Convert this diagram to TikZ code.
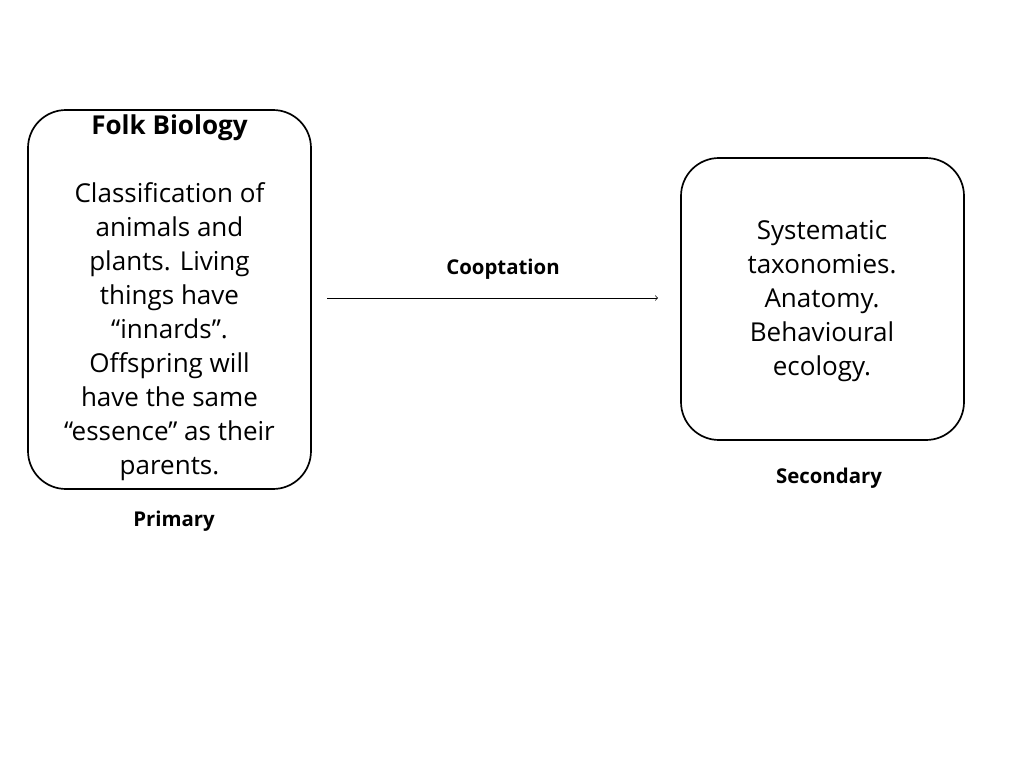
\documentclass[tikz,border=0pt]{standalone}
\usepackage{fontspec}
\setmainfont{Open Sans}
\usetikzlibrary{positioning}
\tikzset{
  panel/.style={draw, line width=1.2pt, rounded corners=38*0.025cm},
  body/.style={align=center, font=\fontsize{18.5}{24.2}\selectfont, inner sep=0pt},
  tag/.style={font=\fontsize{14.5}{17}\selectfont\bfseries, inner sep=0pt}
}
\begin{document}
\begin{tikzpicture}[x=0.025cm, y=-0.025cm]
  \useasboundingbox (0,0) rectangle (1024,768);

  % primary box
  \draw[panel] (28,110) rectangle (311,489);
  \node[body, anchor=north] (folk) at (169.5,114)
    {\textbf{Folk Biology}\\[24.2pt]
     Classification of\\ animals and\\ plants. Living\\ things have\\
     “innards”.\\ Offspring will\\ have the same\\ “essence” as their\\ parents.};
  \node[tag] (primary) at (174,521) {Primary};

  % secondary box
  \draw[panel] (681,158) rectangle (964,440);
  \node[body] (syst) at (822,301)
    {Systematic\\ taxonomies.\\ Anatomy.\\ Behavioural\\ ecology.};
  \node[tag] (secondary) at (829,478) {Secondary};

  % cooptation arrow
  \coordinate (from) at (327,298);
  \coordinate (to) at (658,298);
  \draw[->, line width=0.5pt] (from) -- (to);
  \node[tag] (coopt) at (503,269) {Cooptation};
\end{tikzpicture}
\end{document}
